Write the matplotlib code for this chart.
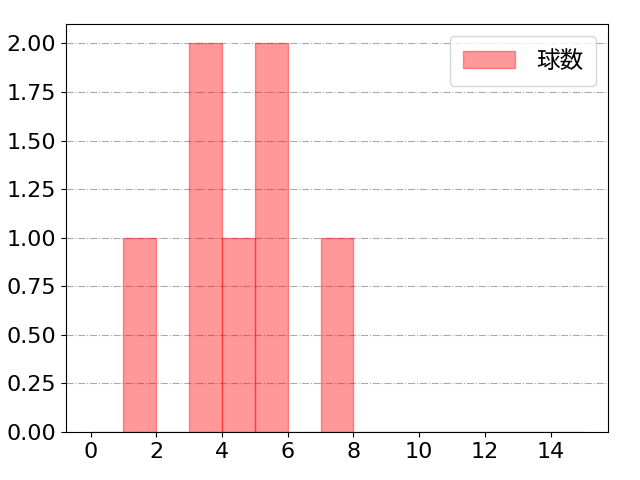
import matplotlib
matplotlib.use('Agg')
import matplotlib.pyplot as plt
import numpy as np

plt.rcParams['font.family'] = ['DejaVu Sans', 'Noto Sans CJK JP']

# pitch-count values (bins of width 1)
pitches = [1, 3, 3, 4, 5, 5, 7]
bin_edges = list(range(0, 16))
xticks = list(range(0, 16, 2))
label = '球数'

fig = plt.figure(figsize=(6.4, 4.8), dpi=100)
ax = fig.add_axes([0.103, 0.1, 0.847, 0.85])

ax.hist(pitches, bins=bin_edges, color='red', alpha=0.4, edgecolor='red',
        linewidth=1, label=label)
ax.grid(axis='y', linestyle='-.', color='#aaaaaa', linewidth=0.8)
ax.set_axisbelow(True)
ax.set_xticks(xticks)
ax.yaxis.set_major_formatter(matplotlib.ticker.FormatStrFormatter('%.2f'))
ax.tick_params(labelsize=16)
ax.legend(loc='upper right', fontsize=17, handlelength=2.2,
          handletextpad=0.9, borderpad=0.55)

fig.savefig('out.png', dpi=100)
